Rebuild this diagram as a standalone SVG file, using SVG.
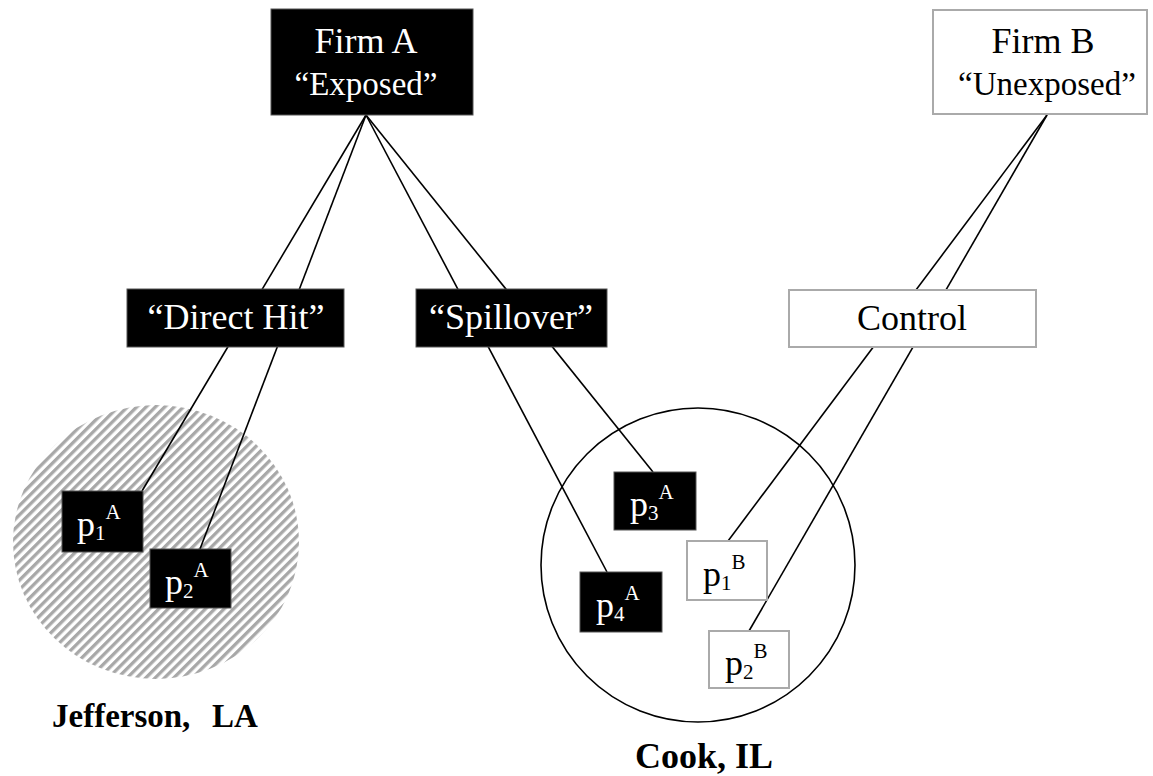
<svg xmlns="http://www.w3.org/2000/svg" width="1153" height="776" viewBox="0 0 1153 776">
<style>
text{font-family:"Liberation Serif","Times New Roman",serif;}
.lbl{font-size:36px;text-anchor:middle;}
.sub{font-size:33px;text-anchor:middle;}
.w{fill:#fff;}
.k{fill:#000;}
.bk{fill:#000;stroke:#555;stroke-width:1;}
.wh{fill:#fff;stroke:#aaa;stroke-width:2;}
.p{font-size:36px;}
.s{font-size:21px;}
.reg{font-weight:bold;fill:#000;}
.conn line{stroke:#000;stroke-width:1.6;}
</style>
<defs>
<pattern id="hatch" width="6.6" height="6.6" patternUnits="userSpaceOnUse" patternTransform="rotate(45)">
<rect x="0" y="0" width="3.3" height="6.6" fill="#a8a8a8"/>
</pattern>
</defs>
<rect width="1153" height="776" fill="#fff"/>
<g id="region-jefferson">
<ellipse cx="156" cy="542" rx="143" ry="137" fill="url(#hatch)"/>
<text class="reg" x="52" y="727" font-size="33">Jefferson,<tspan x="212">LA</tspan></text>
</g>
<g id="region-cook">
<circle cx="698" cy="565" r="157" fill="none" stroke="#000" stroke-width="1.6"/>
<text class="reg" x="704" y="768" font-size="36" text-anchor="middle">Cook, IL</text>
</g>
<g id="connectors" class="conn">
<line x1="366" y1="115" x2="142" y2="491"/>
<line x1="366" y1="115" x2="200" y2="549"/>
<line x1="366" y1="115" x2="607" y2="572"/>
<line x1="366" y1="115" x2="653" y2="472"/>
<line x1="1047" y1="115" x2="728" y2="541"/>
<line x1="1047" y1="115" x2="749" y2="631"/>
</g>
<g id="firmA">
<rect class="bk" x="271" y="9" width="202" height="106"/>
<text class="lbl w" x="366" y="53">Firm A</text>
<text class="sub w" x="366" y="95">“Exposed”</text>
</g>
<g id="firmB">
<rect class="wh" x="933" y="10" width="214" height="104"/>
<text class="lbl k" x="1043" y="53">Firm B</text>
<text class="sub k" x="1047" y="95">“Unexposed”</text>
</g>
<g id="directHit">
<rect class="bk" x="127" y="289" width="217" height="58"/>
<text class="lbl w" x="236" y="329">“Direct Hit”</text>
</g>
<g id="spillover">
<rect class="bk" x="416" y="289" width="191" height="58"/>
<text class="lbl w" x="511" y="329">“Spillover”</text>
</g>
<g id="control">
<rect class="wh" x="789" y="290" width="247" height="57"/>
<text class="lbl k" x="912" y="330">Control</text>
</g>
<g id="p1A">
<rect class="bk" x="62" y="491" width="81" height="61"/>
<text class="w" x="77" y="536"><tspan class="p">p</tspan><tspan class="s" dy="4">1</tspan><tspan class="s" dy="-21">A</tspan></text>
</g>
<g id="p2A">
<rect class="bk" x="150" y="549" width="81" height="59"/>
<text class="w" x="165" y="594"><tspan class="p">p</tspan><tspan class="s" dy="4">2</tspan><tspan class="s" dy="-21">A</tspan></text>
</g>
<g id="p3A">
<rect class="bk" x="614" y="472" width="82" height="58"/>
<text class="w" x="630" y="516"><tspan class="p">p</tspan><tspan class="s" dy="4">3</tspan><tspan class="s" dy="-21">A</tspan></text>
</g>
<g id="p4A">
<rect class="bk" x="580" y="572" width="82" height="60"/>
<text class="w" x="596" y="617"><tspan class="p">p</tspan><tspan class="s" dy="4">4</tspan><tspan class="s" dy="-21">A</tspan></text>
</g>
<g id="p1B">
<rect class="wh" x="687" y="541" width="80" height="59"/>
<text class="k" x="703" y="586"><tspan class="p">p</tspan><tspan class="s" dy="4">1</tspan><tspan class="s" dy="-21">B</tspan></text>
</g>
<g id="p2B">
<rect class="wh" x="709" y="631" width="80" height="57"/>
<text class="k" x="725" y="675"><tspan class="p">p</tspan><tspan class="s" dy="4">2</tspan><tspan class="s" dy="-21">B</tspan></text>
</g>
</svg>
